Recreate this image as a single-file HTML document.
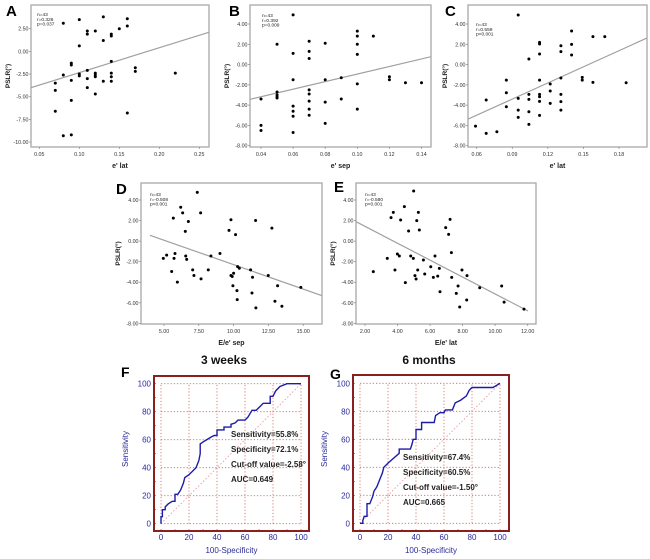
<!DOCTYPE html>
<html><head><meta charset="utf-8"><style>
body{margin:0;background:#fff;width:650px;height:559px;overflow:hidden}
svg{display:block;font-family:"Liberation Sans",sans-serif}
</style></head><body>
<svg id="fig" width="650" height="559" viewBox="0 0 650 559" xmlns="http://www.w3.org/2000/svg"></svg>
<script>
// ---- Panel A ----
const xA=[0.08,0.10,0.13,0.16,0.16,0.15,0.11,0.11,0.12,0.14,0.14,0.13,0.10,0.14,0.09,0.09,0.17,0.17,0.11,0.08,0.10,0.10,0.12,0.12,0.12,0.14,0.14,0.22,0.07,0.09,0.11,0.13,0.14,0.11,0.07,0.12,0.09,0.07,0.16,0.08,0.09];
const yA=[3.1,3.5,3.8,3.6,2.8,2.5,2.25,1.9,2.25,1.9,1.7,1.2,0.6,-1.1,-1.3,-1.5,-1.8,-2.2,-2.1,-2.6,-2.5,-2.7,-2.4,-2.6,-2.8,-2.4,-2.8,-2.4,-3.5,-3.2,-3.0,-3.3,-3.3,-4.0,-4.3,-4.7,-5.4,-6.6,-6.8,-9.3,-9.2];
const xTicksA=[0.05,0.10,0.15,0.20,0.25];
const yTicksA=[2.5,0,-2.5,-5,-7.5,-10];
const fitA=[0.0396,-4.0,0.262,2.1];
const statsA=["n=43","r=0.326","p=0.037"];
// ---- Panel B ----
const xB=[0.04,0.04,0.04,0.05,0.05,0.05,0.05,0.05,0.06,0.06,0.06,0.06,0.06,0.06,0.06,0.07,0.07,0.07,0.07,0.07,0.07,0.07,0.07,0.08,0.08,0.08,0.08,0.09,0.09,0.10,0.10,0.10,0.10,0.10,0.10,0.11,0.12,0.12,0.13,0.14];
const yB=[-3.4,-6.0,-6.5,2.0,-2.7,-3.0,-3.2,-3.3,4.9,1.1,-1.5,-4.1,-4.6,-5.1,-6.7,2.3,1.3,0.6,-2.5,-2.9,-3.6,-4.4,-5.0,2.1,-1.5,-3.7,-5.8,-1.3,-3.4,3.3,2.8,2.0,1.0,-1.9,-4.4,2.8,-1.2,-1.5,-1.8,-1.8];
const xTicksB=[0.04,0.06,0.08,0.10,0.12,0.14];
const yTicksB=[4,2,0,-2,-4,-6,-8];
const fitB=[0.0331,-3.43,0.146,0.78];
const statsB=["n=43","r=0.392","p=0.009"];
// ---- Panel C ----
const xC=[0.059,0.068,0.068,0.077,0.085,0.085,0.085,0.095,0.095,0.095,0.095,0.104,0.104,0.104,0.104,0.104,0.113,0.113,0.113,0.113,0.113,0.113,0.113,0.113,0.122,0.122,0.122,0.131,0.131,0.131,0.131,0.131,0.131,0.140,0.140,0.140,0.149,0.149,0.158,0.158,0.168,0.186];
const yC=[-6.07,-3.5,-6.79,-6.63,-1.53,-2.78,-4.16,4.89,-3.34,-4.49,-5.21,0.55,-2.94,-3.43,-4.65,-5.9,2.19,2.03,1.04,-1.53,-2.94,-3.17,-3.63,-5.01,-1.92,-2.61,-3.83,1.86,1.27,-1.33,-2.94,-3.66,-4.49,3.31,1.99,0.94,-1.26,-1.53,2.75,-1.76,2.75,-1.79];
const xTicksC=[0.06,0.09,0.12,0.15,0.18];
const yTicksC=[4,2,0,-2,-4,-6,-8];
const fitC=[0.0527,-5.38,0.2061,2.75];
const statsC=["n=43","r=0.559","p<0.001"];
// ---- Panel D ----
const xD=[4.95,5.19,5.55,5.67,5.72,5.79,5.96,6.2,6.34,6.53,6.56,6.63,6.75,7.06,7.15,7.39,7.63,7.66,8.37,9.02,8.18,9.67,9.81,9.81,9.9,9.95,10.0,10.14,10.24,10.26,10.29,10.41,11.22,11.32,11.36,11.58,11.6,12.49,12.75,12.97,13.16,13.47,14.83];
const yD=[-1.68,-1.36,-2.96,2.24,-1.68,-1.2,-3.99,3.29,2.75,0.95,-1.45,-1.77,1.91,-2.8,-3.35,4.74,2.75,-3.67,-1.45,-1.2,-2.8,1.05,2.08,-3.35,-3.44,-4.34,-3.12,0.63,-4.82,-5.69,-2.48,-2.64,-2.8,-5.05,-3.51,2.01,-6.49,-3.35,1.27,-5.85,-4.34,-6.33,-4.5];
const xTicksD=[5,7.5,10,12.5,15];
const yTicksD=[4,2,0,-2,-4,-6,-8];
const fitD=[3.99,0.57,16.33,-5.3];
const statsD=["n=43","r=-0.508","p<0.001"];
// ---- Panel E ----
const xE=[2.51,3.37,3.6,3.74,3.84,3.99,4.11,4.19,4.42,4.48,4.68,4.81,4.97,4.99,5.18,5.28,5.24,5.07,5.14,5.34,5.59,5.67,6.04,6.2,6.3,6.47,6.57,6.61,6.96,7.14,7.23,7.31,7.33,7.61,7.72,7.96,7.82,8.27,8.25,9.05,10.4,10.55,11.77];
const yE=[-2.97,-1.68,2.28,2.8,-2.81,-1.25,-1.45,2.05,3.35,-4.04,0.98,-1.45,-1.68,4.88,1.99,2.8,-2.81,-3.36,-3.69,1.08,-1.84,-3.2,-2.49,-3.53,-1.45,-3.4,-2.65,-4.92,1.31,0.66,2.12,-1.12,-3.53,-5.08,-4.37,-2.81,-6.41,-3.36,-5.73,-4.53,-4.37,-5.93,-6.61];
const xTicksE=[2,4,6,8,10,12];
const yTicksE=[4,2,0,-2,-4,-6,-8];
const fitE=[1.45,1.89,12.02,-6.8];
const statsE=["n=43","r=-0.580","p<0.001"];
// ---- ROC F ----
const rocFx=[0,0,1,1,3,3,5,8,10,10,12,14,16,17,20,25,27,28,28,31,36,38,40,40,45,45,50,50,53,55,60,62,65,68,71,73,78,78,80,82,85,90,100];
const rocFy=[0,5,5,10,10,12,14,16,16,21,21,24,29,33,35,40,45,50,57,59,62,63,63,67,67,69,69,71,72,74,74,76,81,81,84,86,86,91,91,95,98,100,100];
const rocFtext=["Sensitivity=55.8%","Specificity=72.1%","Cut-off value=-2.58°","AUC=0.649"];
// ---- ROC G ----
const rocGx=[0,2,2,3,5,5,7,9,10,12,14,16,17,20,28,28,36,37,38,40,40,44,44,53,54,57,60,61,66,68,72,76,78,80,95,100];
const rocGy=[0,0,2,5,5,14,14,19,23,26,31,36,40,43,50,53,53,56,60,60,67,67,72,72,77,79,79,81,81,86,88,91,95,97,97,100];
const rocGtext=["Sensitivity=67.4%","Specificity=60.5%","Cut-off value=-1.50°","AUC=0.665"];
const rocTicks=[0,20,40,60,80,100];

const NS="http://www.w3.org/2000/svg";
const svg=document.getElementById('fig');
function mk(tag,attrs,parent,text){const e=document.createElementNS(NS,tag);for(const k in attrs)e.setAttribute(k,attrs[k]);if(text!==undefined)e.textContent=text;(parent||svg).appendChild(e);return e;}

function scatter(id,letter,cfg,xs,ys,xt,yt,fit,stats,xtitle){
  const g=mk('g',{});
  
  
  const X=v=>cfg.x0+(v-cfg.xv0)*cfg.xs, Y=v=>cfg.y0-(v-cfg.yv0)*cfg.ys;
  const clipId='clip'+id;
  const cp=mk('clipPath',{id:clipId},g);mk('rect',{x:cfg.l,y:cfg.t,width:cfg.r-cfg.l,height:cfg.b-cfg.t},cp);
  const box=mk('rect',{x:cfg.l,y:cfg.t,width:cfg.r-cfg.l,height:cfg.b-cfg.t,fill:'none',stroke:'#a8a8a8','stroke-width':1.3},g);
  
  
  yt.forEach(v=>{const y=Y(v);mk('line',{x1:cfg.l-2,x2:cfg.l,y1:y,y2:y,stroke:'#888','stroke-width':0.7},g);
    const t=mk('text',{x:cfg.l-2.5,y:y+2,'font-size':5.3,'text-anchor':'end',fill:'#333'},g,v.toFixed(2));
    
    });
  xt.forEach(v=>{const x=X(v);mk('line',{x1:x,x2:x,y1:cfg.b,y2:cfg.b+2,stroke:'#888','stroke-width':0.7},g);
    const t=mk('text',{x:x,y:cfg.b+9,'font-size':5.3,'text-anchor':'middle',fill:'#333'},g,v.toFixed(2));
    
    });
  const ln=mk('line',{x1:X(fit[0]),y1:Y(fit[1]),x2:X(fit[2]),y2:Y(fit[3]),stroke:'#a0a0a0','stroke-width':1.2,'clip-path':'url(#'+clipId+')'},g);
  
  
  xs.forEach((v,i)=>{const c=mk('circle',{cx:X(v),cy:Y(ys[i]),r:1.5,fill:'#000'},g);
    
    });
  stats.forEach((s,i)=>{const t=mk('text',{x:cfg.sx,y:cfg.sy+i*4.8,'font-size':4.8,fill:'#222'},g,s);
    
    });
  const L=mk('text',{x:cfg.lx,y:cfg.ly,'font-size':15,'font-weight':'bold',fill:'#000'},g,letter);
  
  
  const ytl=mk('text',{x:cfg.ytx,y:(cfg.t+cfg.b)/2,'font-size':6.5,'font-weight':'bold','text-anchor':'middle',fill:'#222',transform:'rotate(-90 '+cfg.ytx+' '+((cfg.t+cfg.b)/2)+')'},g,'PSLR(°)');
  
  
  const xtl=mk('text',{x:(cfg.l+cfg.r)/2,y:cfg.b+21,'font-size':7,'font-weight':'bold','text-anchor':'middle',fill:'#222'},g,xtitle);
  
  
}
scatter('a','A',{l:31,r:209,t:5,b:147,x0:39.3,xv0:0.05,xs:800,y0:28.7,yv0:2.5,ys:9.07,sx:37,sy:16,lx:6,ly:16,ytx:10},xA,yA,xTicksA,yTicksA,fitA,statsA,"e' lat");
scatter('b','B',{l:250,r:431,t:5,b:147,x0:261,xv0:0.04,xs:1605,y0:24,yv0:4,ys:10.14,sx:262,sy:17,lx:229,ly:16,ytx:229},xB,yB,xTicksB,yTicksB,fitB,statsB,"e' sep");
scatter('c','C',{l:468,r:647,t:5,b:147,x0:476.7,xv0:0.06,xs:1186,y0:24,yv0:4,ys:10.14,sx:476,sy:26,lx:445,ly:16,ytx:447},xC,yC,xTicksC,yTicksC,fitC,statsC,"e' lat");
scatter('d','D',{l:141,r:322,t:183,b:324,x0:164,xv0:5,xs:13.92,y0:200,yv0:4,ys:10.28,sx:150,sy:196,lx:116,ly:194,ytx:120},xD,yD,xTicksD,yTicksD,fitD,statsD,"E/e' sep");
scatter('e','E',{l:356,r:536,t:183,b:324,x0:365,xv0:2,xs:16.27,y0:200,yv0:4,ys:10.28,sx:365,sy:196,lx:334,ly:192,ytx:335},xE,yE,xTicksE,yTicksE,fitE,statsE,"E/e' lat");

function roc(id,letter,cfg,xs,ys,texts,title){
  const g=mk('g',{});
  
  
  const X=v=>cfg.x0+v*1.4, Y=v=>cfg.y0-v*1.4;
  rocTicks.forEach(v=>{
    mk('line',{x1:X(v),x2:X(v),y1:Y(0),y2:Y(100),stroke:'#d06060','stroke-width':0.8,'stroke-dasharray':'1.2,2'},g);
    mk('line',{x1:X(0),x2:X(100),y1:Y(v),y2:Y(v),stroke:'#d06060','stroke-width':0.8,'stroke-dasharray':'1.2,2'},g);
    const tx=mk('text',{x:X(v),y:cfg.b+9,'font-size':8,'text-anchor':'middle',fill:'#2a2a9a'},g,String(v));
    
    
    const ty=mk('text',{x:cfg.l-3,y:Y(v)+3,'font-size':8,'text-anchor':'end',fill:'#2a2a9a'},g,String(v));
    
    
  });
  for(let v=0;v<=100;v+=10){
    mk('line',{x1:X(v),x2:X(v),y1:cfg.b-2,y2:cfg.b,stroke:'#555','stroke-width':0.6},g);
    mk('line',{x1:cfg.l,x2:cfg.l+2,y1:Y(v),y2:Y(v),stroke:'#555','stroke-width':0.6},g);
  }
  const d=mk('line',{x1:X(0),y1:Y(0),x2:X(100),y2:Y(100),stroke:'#e0a0a0','stroke-width':0.9,'stroke-dasharray':'1.5,2'},g);
  
  
  const p=mk('polyline',{points:xs.map((v,i)=>X(v)+','+Y(ys[i])).join(' '),fill:'none',stroke:'#1c1ca8','stroke-width':1.4},g);
  
  
  const box=mk('rect',{x:cfg.l,y:cfg.t,width:cfg.r-cfg.l,height:cfg.b-cfg.t,fill:'none',stroke:'#8a1f1f','stroke-width':2},g);
  
  
  texts.forEach((s,i)=>{const t=mk('text',{x:cfg.tx,y:cfg.ty+i*cfg.tdy,'font-size':8,'font-weight':'bold',fill:'#222'},g,s);
    
    });
  const T=mk('text',{x:cfg.ttx,y:364,'font-size':12,'font-weight':'bold','text-anchor':'middle',fill:'#111'},g,title);
  
  
  const L=mk('text',{x:cfg.lx,y:cfg.ly,'font-size':14,'font-weight':'bold',fill:'#000'},g,letter);
  
  
  const yl=mk('text',{x:cfg.ylx,y:449,'font-size':8,'text-anchor':'middle',fill:'#2a2a9a',transform:'rotate(-90 '+cfg.ylx+' 449)'},g,'Sensitivity');
  
  
  const xl=mk('text',{x:(cfg.l+cfg.r)/2,y:553,'font-size':8,'text-anchor':'middle',fill:'#2a2a9a'},g,'100-Specificity');
  
  
}
roc('f','F',{l:154,r:309,t:376,b:531,x0:161,y0:523.7,tx:231,ty:437,tdy:15,ttx:224,lx:121,ly:377,ylx:128},rocFx,rocFy,rocFtext,'3 weeks');
roc('g','G',{l:353,r:509,t:375,b:531,x0:360,y0:523.3,tx:403,ty:460,tdy:15,ttx:429,lx:330,ly:379,ylx:327},rocGx,rocGy,rocGtext,'6 months');
</script>
</body></html>
